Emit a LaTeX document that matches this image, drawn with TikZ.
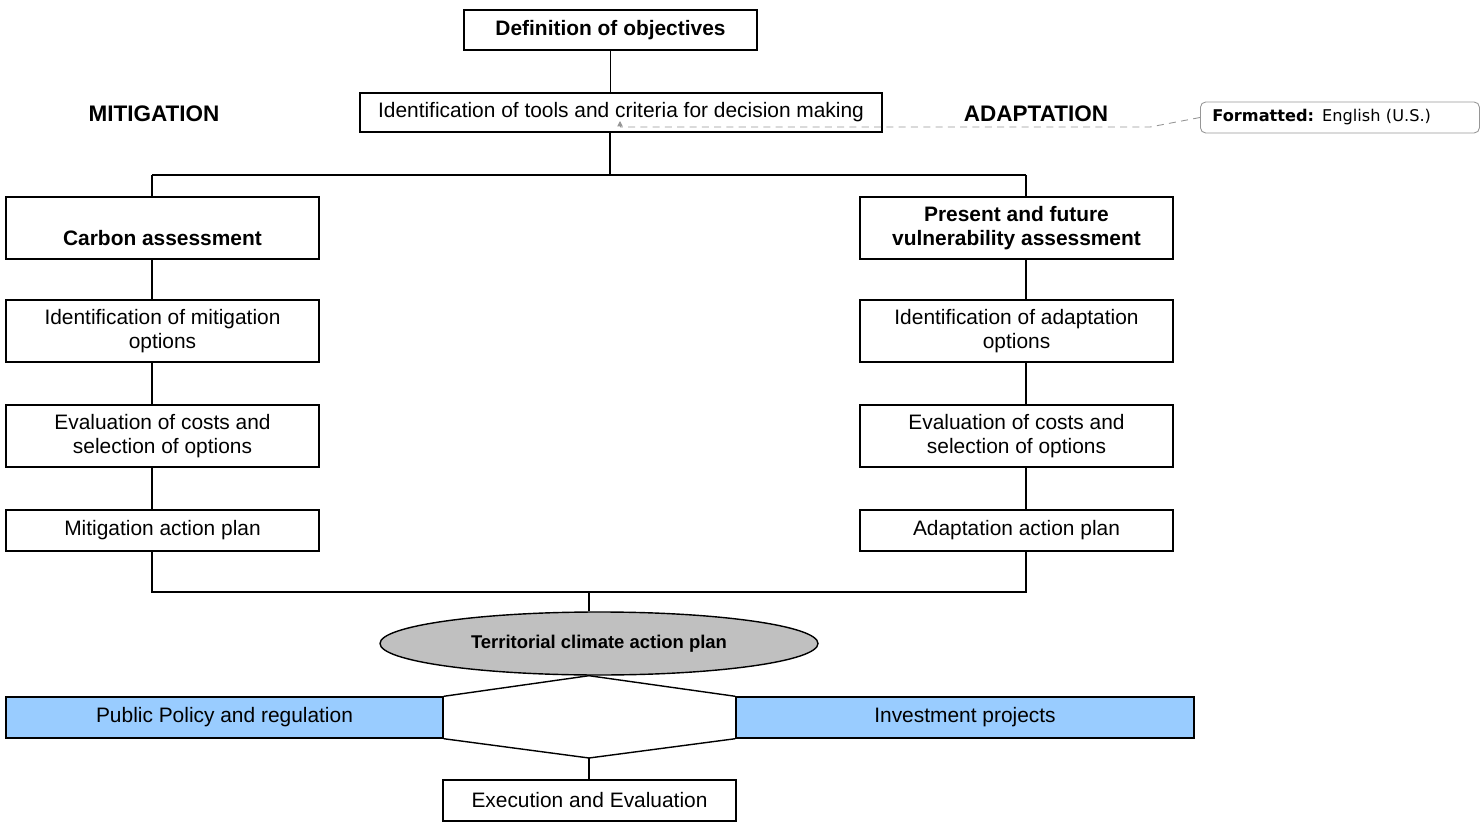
\documentclass[tikz,border=0pt]{standalone}
\usepackage{fontspec}
\setmainfont{Liberation Sans}
\newfontfamily\notefont{DejaVu Sans}
\usetikzlibrary{shapes.geometric,arrows.meta}

\definecolor{paleblue}{RGB}{153,204,255}
\definecolor{ovalgray}{RGB}{192,192,192}
\definecolor{notegray}{RGB}{150,150,150}

\tikzset{
	box/.style={draw, inner sep=0pt, minimum width=6.26cm, minimum height=1.24cm,
		align=center, font=\fontsize{11.9}{13.7}\selectfont},
	boldbox/.style={box, font=\fontsize{11.9}{13.7}\selectfont\bfseries},
	side/.style={font=\fontsize{12.8}{14}\selectfont\bfseries},
	oval/.style={draw, ellipse, fill=ovalgray, inner sep=0pt, minimum width=8.76cm,
		minimum height=1.26cm, font=\fontsize{10.5}{12}\selectfont\bfseries},
	bluebox/.style={box, fill=paleblue, minimum height=0.82cm},
	note/.style={draw=notegray, rounded corners=3pt, line width=0.5pt, anchor=west,
		inner xsep=0.24cm, inner ysep=0pt, minimum height=0.62cm, text width=5.1cm,
		align=left, font=\notefont\fontsize{9.2}{11}\selectfont},
	comment/.style={draw=notegray, line width=0.5pt, dash pattern=on 4pt off 3pt}
}

\begin{document}
\begin{tikzpicture}[line width=0.8pt]
	\useasboundingbox (0, 0) rectangle (29.64, 16.44);

	% Верхняя часть
	\node[boldbox, minimum width=5.86cm, minimum height=0.8cm] (def) at (12.21, 15.84) {Definition of objectives};
	\node[box, minimum width=10.44cm, minimum height=0.78cm] (tools) at (12.42, 14.19) {Identification of tools and criteria for decision making};
	\node[side] (mit) at (3.08, 14.16) {MITIGATION};
	\node[side] (ada) at (20.72, 14.16) {ADAPTATION};

	% Левая колонка
	\node[boldbox] (carbon) at (3.25, 11.88) {\raisebox{-0.2cm}[\height][\depth]{Carbon assessment}};
	\node[box] (mitopt) at (3.25, 9.82) {Identification of mitigation\\options};
	\node[box] (mitcost) at (3.25, 7.72) {Evaluation of costs and\\selection of options};
	\node[box, minimum height=0.82cm] (mitplan) at (3.25, 5.83) {Mitigation action plan};

	% Правая колонка
	\node[boldbox] (vuln) at (20.33, 11.88) {Present and future\\vulnerability assessment};
	\node[box] (adaopt) at (20.33, 9.82) {Identification of adaptation\\options};
	\node[box] (adacost) at (20.33, 7.72) {Evaluation of costs and\\selection of options};
	\node[box, minimum height=0.82cm] (adaplan) at (20.33, 5.83) {Adaptation action plan};

	% Нижняя часть
	\node[oval] (ter) at (11.98, 3.57) {Territorial climate action plan};
	\node[bluebox, minimum width=8.74cm] (pub) at (4.49, 2.09) {Public Policy and regulation};
	\node[bluebox, minimum width=9.16cm] (inv) at (19.3, 2.09) {Investment projects};
	\node[box, minimum width=5.86cm, minimum height=0.82cm] (exec) at (11.79, 0.43) {Execution and Evaluation};

	\coordinate (split) at (12.2, 12.94);
	\coordinate (mx) at (3.04, 12.94);
	\coordinate (ax) at (20.52, 12.94);
	\coordinate (mb) at (3.04, 4.6);
	\coordinate (ab) at (20.52, 4.6);
	\coordinate (join) at (11.78, 4.6);
	\coordinate (hexb) at (11.78, 1.28);

	\draw (def) -- (def |- tools.north);
	\draw (tools.south -| split) -- (split);
	\draw (mx) -- (ax);

	\draw (mx) -- (mx |- carbon.north);
	\draw (carbon.south -| mx) -- (mitopt.north -| mx);
	\draw (mitopt.south -| mx) -- (mitcost.north -| mx);
	\draw (mitcost.south -| mx) -- (mitplan.north -| mx);

	\draw (ax) -- (ax |- vuln.north);
	\draw (vuln.south -| ax) -- (adaopt.north -| ax);
	\draw (adaopt.south -| ax) -- (adacost.north -| ax);
	\draw (adacost.south -| ax) -- (adaplan.north -| ax);

	\draw (mitplan.south -| mb) -- (mb) -- (ab) -- (adaplan.south -| ab);
	\draw (join) -- (join |- ter.north);

	% Шестиугольник между блоками
	\draw (hexb |- ter.south) -- (pub.north east);
	\draw (pub.south east) -- (hexb) -- (inv.south west);
	\draw (inv.north west) -- (hexb |- ter.south);
	\draw (hexb) -- (exec.north -| hexb);

	% Примечание
	\node[note] (fmt) at (24.0, 14.09) {\textbf{Formatted:} English (U.S.)};
	\coordinate (cmt) at (12.4, 13.9);
	\coordinate (bend) at (23.0, 13.9);
	\draw[comment] (fmt.west) -- (bend) -- (cmt);
	\draw[notegray, line width=0.5pt, -{Triangle[width=3pt, length=3pt]}] (cmt) -- ++(0, 0.12);
\end{tikzpicture}
\end{document}
